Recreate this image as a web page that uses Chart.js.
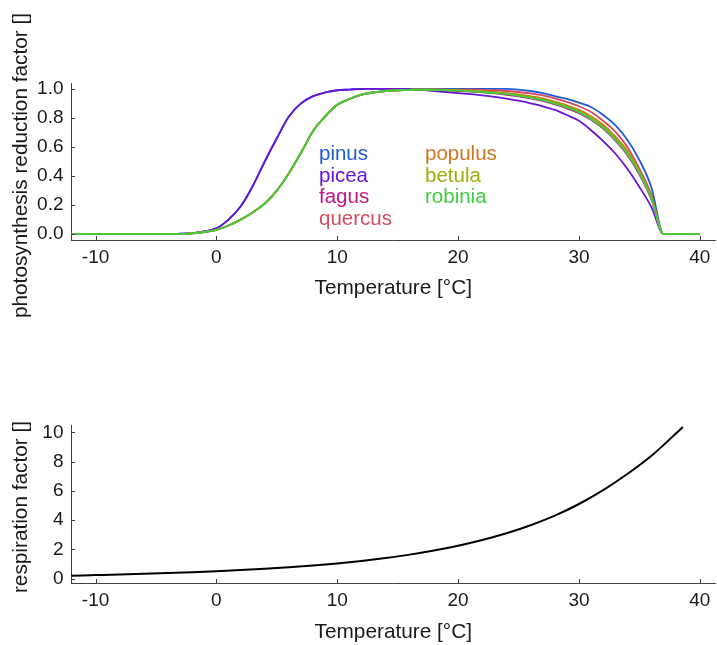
<!DOCTYPE html>
<html><head><meta charset="utf-8">
<script src="https://cdn.jsdelivr.net/npm/chart.js@4.4.1/dist/chart.umd.min.js"></script>
<style>
html,body{margin:0;padding:0;background:#fff;width:717px;height:645px;overflow:hidden;position:relative}
canvas{position:absolute;left:0}
</style></head><body>
<canvas id="c1" width="717" height="320" style="top:0;width:717px;height:320px"></canvas>
<canvas id="c2" width="717" height="325" style="top:330px;width:717px;height:325px"></canvas>
<script>
// ---------- data ----------
const temps = [-12,-11,-10,-9,-8,-7,-6,-5,-4,-3,-2,-1,0,1,2,3,4,5,6,7,8,9,10,11,12,13,14,15,16,17,18,19,20,21,22,23,24,25,26,27,28,29,30,31,32,33,34,35,36,37,38,39,40];

const pinus = [0,0,0,0,0,0,0,0,0,0.003,0.008,0.02,0.04,0.1,0.19,0.33,0.5,0.66,0.81,0.9,0.95,0.975,0.99,0.995,
  1,1,1,1,1,1,1,1,1,1,1,1,1,
  0.995,0.985,0.97,0.95,0.93,0.905,0.875,0.82,0.75,0.65,0.51,0.32,0,0,0,0];
const picea = [0,0,0,0,0,0,0,0,0,0.003,0.008,0.02,0.04,0.1,0.19,0.33,0.5,0.66,0.81,0.9,0.95,0.975,0.99,0.995,
  1,1,1,1,0.998,0.993,0.985,0.978,0.97,0.963,0.955,0.945,0.932,0.918,0.9,0.88,0.855,0.82,0.78,0.715,0.64,0.555,0.45,0.325,0.185,0,0,0,0];
const fagus = [0,0,0,0,0,0,0,0,0,0,0.005,0.015,0.03,0.06,0.1,0.15,0.21,0.3,0.42,0.56,0.71,0.81,0.89,0.93,0.96,0.975,0.985,0.99,0.993,0.995,
  0.992,0.989,0.985,0.98,0.975,0.968,0.959,0.948,0.934,0.917,0.893,0.866,0.832,0.787,0.726,0.645,0.545,0.41,0.238,0,0,0,0];
const quercus = [0,0,0,0,0,0,0,0,0,0,0.005,0.015,0.03,0.06,0.1,0.15,0.21,0.3,0.42,0.56,0.71,0.81,0.89,0.93,0.96,0.975,0.985,0.99,0.993,0.995,
  0.996,0.995,0.995,0.994,0.993,0.99,0.985,0.978,0.968,0.955,0.935,0.91,0.88,0.84,0.78,0.705,0.6,0.45,0.27,0,0,0,0];
const populus = [0,0,0,0,0,0,0,0,0,0,0.005,0.015,0.03,0.06,0.1,0.15,0.21,0.3,0.42,0.56,0.71,0.81,0.89,0.93,0.96,0.975,0.985,0.99,0.993,0.995,
  0.995,0.993,0.991,0.988,0.984,0.978,0.971,0.961,0.949,0.934,0.912,0.887,0.855,0.812,0.753,0.673,0.573,0.436,0.256,0,0,0,0];
const betula = [0,0,0,0,0,0,0,0,0,0,0.005,0.015,0.03,0.06,0.1,0.15,0.21,0.3,0.42,0.56,0.71,0.81,0.89,0.93,0.96,0.975,0.985,0.99,0.993,0.995,
  0.994,0.991,0.989,0.985,0.981,0.974,0.967,0.956,0.943,0.928,0.905,0.879,0.846,0.802,0.742,0.662,0.562,0.427,0.25,0,0,0,0];
const robinia = [0,0,0,0,0,0,0,0,0,0,0.005,0.015,0.03,0.06,0.1,0.15,0.21,0.3,0.42,0.56,0.71,0.81,0.89,0.93,0.96,0.975,0.985,0.99,0.993,0.995,
  0.993,0.99,0.987,0.983,0.978,0.971,0.963,0.952,0.938,0.922,0.898,0.872,0.838,0.793,0.732,0.652,0.552,0.418,0.243,0,0,0,0];

const speciesNames = ['pinus','picea','fagus','quercus','populus','betula','robinia'];
const speciesValues = [pinus,picea,fagus,quercus,populus,betula,robinia];
const speciesColors = ['#1f5ad7','#6914d7','#c3148c','#d24b5f','#cd781e','#96af0a','#41cd41'];

const respTemps = [-12,-10,-8,-6,-4,-2,0,2,4,6,8,10,12,14,16,18,20,22,24,26,28,30,32,34,36,38,38.6];
const respiration = [0.2,0.24,0.28,0.33,0.38,0.44,0.51,0.59,0.68,0.78,0.9,1.04,1.21,1.41,1.64,1.92,2.25,2.64,3.1,3.65,4.3,5.1,6.05,7.15,8.4,9.9,10.36];

const xTicks = [-10,0,10,20,30,40];
const photoTicks = [0,0.2,0.4,0.6,0.8,1.0];
const respTicks = [0,2,4,6,8,10];

const xTitle = 'Temperature [°C]';
const photoTitle = 'photosynthesis reduction factor []';
const respTitle = 'respiration factor []';

// ---------- style ----------
const FONT = '"Liberation Sans", Arial, Helvetica, sans-serif';
const axisColor = '#404040';
const textColor = '#1a1a1a';

const inwardTicks = {
  id: 'inwardTicks',
  afterDraw(chart) {
    const {ctx, chartArea, scales: {x, y}} = chart;
    ctx.save();
    ctx.strokeStyle = axisColor;
    ctx.lineWidth = 1;
    ctx.beginPath();
    x.ticks.forEach(t => {
      const px = Math.round(x.getPixelForValue(t.value)) + 0.5;
      ctx.moveTo(px, chartArea.bottom); ctx.lineTo(px, chartArea.bottom - 4);
    });
    y.ticks.forEach(t => {
      const py = Math.round(y.getPixelForValue(t.value)) + 0.5;
      ctx.moveTo(chartArea.left, py); ctx.lineTo(chartArea.left + 4, py);
    });
    ctx.stroke();
    ctx.restore();
  }
};

// vertical axis title drawn as rotated text, centred on the plot area plus a small shift
const yTitlePlugin = {
  id: 'yTitle',
  afterDraw(chart, args, opts) {
    if (!opts.text) return;
    const {ctx, chartArea} = chart;
    ctx.save();
    ctx.font = opts.font;
    ctx.fillStyle = textColor;
    ctx.textAlign = 'center';
    ctx.textBaseline = 'middle';
    ctx.translate(opts.x, (chartArea.top + chartArea.bottom) / 2 + opts.dy);
    ctx.rotate(-Math.PI / 2);
    ctx.fillText(opts.text, 0, 0);
    ctx.restore();
  }
};

const textLegend = {
  id: 'textLegend',
  afterDraw(chart, args, opts) {
    if (!opts.items) return;
    const {ctx, chartArea} = chart;
    ctx.save();
    ctx.font = opts.font;
    ctx.textAlign = 'left';
    ctx.textBaseline = 'alphabetic';
    opts.items.forEach((it, i) => {
      const col = i < opts.perCol ? 0 : 1;
      const row = i < opts.perCol ? i : i - opts.perCol;
      ctx.fillStyle = it.color;
      ctx.fillText(it.text, chartArea.left + opts.colX[col], chartArea.top + opts.rowY[row]);
    });
    ctx.restore();
  }
};

function makeScales(xmin, xmax, ymin, ymax, yTicks, yFmt, xAxisHeight, xTitlePadBottom) {
  return {
    x: {
      type: 'linear', min: xmin, max: xmax,
      afterBuildTicks: s => { s.ticks = xTicks.map(v => ({value: v})); },
      afterFit: s => { s.height = xAxisHeight; },
      grid: {display: false, drawTicks: false},
      border: {display: true, color: axisColor, width: 1},
      ticks: {color: textColor, font: {family: FONT, size: 19}, padding: 6.6, maxRotation: 0,
              callback: v => String(v)},
      title: {display: true, text: xTitle, color: textColor, font: {family: FONT, size: 20.8},
              padding: {top: 0, bottom: xTitlePadBottom}}
    },
    y: {
      type: 'linear', min: ymin, max: ymax,
      afterBuildTicks: s => { s.ticks = yTicks.map(v => ({value: v})); },
      afterFit: s => { s.width = 71; },
      grid: {display: false, drawTicks: false},
      border: {display: true, color: axisColor, width: 1},
      ticks: {color: textColor, font: {family: FONT, size: 19}, padding: 7.5, callback: yFmt},
      title: {display: false}
    }
  };
}

// ---------- top chart ----------
new Chart(document.getElementById('c1'), {
  type: 'line',
  data: {
    datasets: speciesNames.map((n, i) => ({
      label: n,
      data: temps.map((t, k) => ({x: t, y: speciesValues[i][k]})),
      borderColor: speciesColors[i],
      borderWidth: 1.8,
      pointRadius: 0,
      fill: false,
      cubicInterpolationMode: 'monotone',
      order: speciesNames.length - 1 - i
    }))
  },
  options: {
    responsive: false, animation: false, devicePixelRatio: 1,
    layout: {padding: {top: 83, left: 0, right: 0, bottom: 0}},
    plugins: {
      legend: {display: false}, tooltip: {enabled: false},
      yTitle: {text: photoTitle, font: '20.8px ' + FONT, x: 21.5, dy: 4},
      textLegend: {
        font: '20.5px ' + FONT, perCol: 4, colX: [248, 354], rowY: [77, 98.7, 120.3, 142],
        items: speciesNames.map((n, i) => ({text: n, color: speciesColors[i]}))
      }
    },
    scales: makeScales(-12.03, 41.3, -0.04, 1.04, photoTicks, v => v.toFixed(1), 80, 19)
  },
  plugins: [inwardTicks, yTitlePlugin, textLegend]
});

// ---------- bottom chart ----------
new Chart(document.getElementById('c2'), {
  type: 'line',
  data: {
    datasets: [{
      label: 'respiration',
      data: respTemps.map((t, k) => ({x: t, y: respiration[k]})),
      borderColor: '#000000',
      borderWidth: 2,
      pointRadius: 0,
      fill: false,
      cubicInterpolationMode: 'monotone'
    }]
  },
  options: {
    responsive: false, animation: false, devicePixelRatio: 1,
    layout: {padding: {top: 95, left: 0, right: 0, bottom: 0}},
    plugins: {
      legend: {display: false}, tooltip: {enabled: false},
      yTitle: {text: respTitle, font: '20.8px ' + FONT, x: 21.5, dy: 3},
      textLegend: {}
    },
    scales: makeScales(-12.03, 41.3, -0.3, 10.5, respTicks, v => String(v), 72, 10)
  },
  plugins: [inwardTicks, yTitlePlugin]
});
</script>
</body></html>
